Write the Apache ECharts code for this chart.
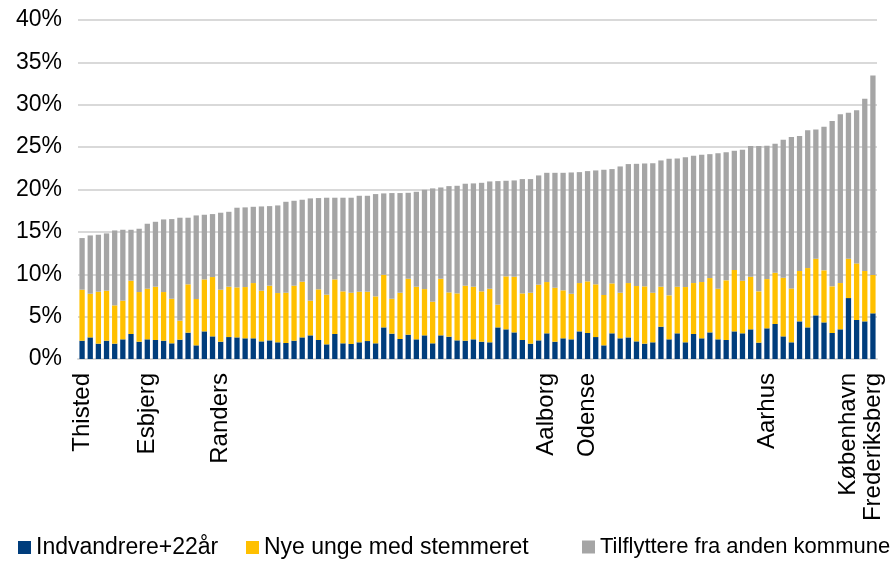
<!DOCTYPE html>
<html>
<head>
<meta charset="utf-8">
<script src="https://cdn.jsdelivr.net/npm/echarts@6/dist/echarts.min.js"></script>
<style>
html,body{margin:0;padding:0;background:#fff;}
#c{width:893px;height:562px;}
</style>
</head>
<body>
<div id="c"></div>
<script>
// 98 municipalities, sorted by total share; only some are labelled
const categories = [
 'Thisted','','','','','','','','Esbjerg','',
 '','','','','','','','Randers','','',
 '','','','','','','','','','',
 '','','','','','','','','','',
 '','','','','','','','','','',
 '','','','','','','','Aalborg','','',
 '','','Odense','','','','','','','',
 '','','','','','','','','','',
 '','','','','Aarhus','','','','','',
 '','','','','København','','','Frederiksberg'
];
const seriesNames = ['Indvandrere+22år','Nye unge med stemmeret','Tilflyttere fra anden kommune'];
const indvandrere = [
 2.16,2.55,1.81,2.16,1.81,2.32,2.95,2.04,2.32,2.24,
 2.16,1.85,2.28,3.11,1.61,3.26,2.67,2.04,2.59,2.55,
 2.44,2.44,2.08,2.20,1.97,1.89,2.16,2.55,2.79,2.24,
 1.73,2.95,1.85,1.77,1.97,2.12,1.85,3.73,2.99,2.36,
 2.87,2.32,2.79,1.85,2.79,2.63,2.20,2.16,2.32,2.04,
 1.97,3.73,3.50,3.14,2.24,1.81,2.20,3.03,2.04,2.44,
 2.32,3.26,3.07,2.59,1.61,3.03,2.44,2.55,2.08,1.81,
 1.97,3.81,2.32,3.03,1.97,2.95,2.44,3.14,2.32,2.24,
 3.26,3.03,3.50,1.93,3.62,4.13,2.67,1.97,4.44,3.73,
 5.15,4.32,3.07,3.50,7.19,4.60,4.44,5.39
];
const nyeUnge = [
 6.02,5.15,6.13,5.90,4.52,4.56,6.29,5.86,5.97,6.29,
 5.74,5.26,2.24,5.70,5.47,6.13,7.00,6.14,5.94,5.90,
 6.05,6.52,5.98,6.45,5.81,5.93,6.49,6.57,4.09,5.98,
 5.86,6.44,6.13,6.05,5.97,5.82,5.54,6.21,4.12,5.46,
 6.60,6.21,5.46,4.91,6.68,5.23,5.54,6.49,6.21,5.94,
 6.32,2.68,6.25,6.57,5.50,6.01,6.57,6.05,6.37,5.66,
 5.38,5.70,6.09,6.22,5.94,5.89,5.38,6.41,6.53,6.76,
 5.85,4.72,5.19,5.50,6.52,6.01,6.64,6.41,5.97,7.04,
 7.24,6.21,6.21,6.05,5.81,6.05,6.92,6.36,5.94,7.00,
 6.68,6.14,5.50,5.46,4.64,6.68,5.94,4.52
];
const tilflyttere = [
 6.09,6.88,6.72,6.76,8.84,8.37,6.01,7.47,7.67,7.66,
 8.57,9.40,12.15,7.86,9.86,7.63,7.43,9.08,8.84,9.40,
 9.40,9.00,9.94,9.39,10.34,10.73,10.02,9.67,12.07,10.77,
 11.44,9.64,11.05,11.21,11.32,11.32,12.07,9.60,12.47,11.76,
 10.14,11.20,11.72,13.37,10.77,12.54,12.70,12.03,12.19,12.81,
 12.66,14.58,11.28,11.36,13.49,13.41,12.89,12.89,13.56,13.87,
 14.31,13.09,13.01,13.44,14.78,13.49,14.90,14.04,14.42,14.50,
 15.29,14.90,16.11,15.13,15.33,15.02,15.02,14.62,16.00,15.13,
 14.07,15.45,15.41,17.14,15.73,15.21,16.27,17.85,15.92,16.27,
 15.25,16.94,19.50,19.93,17.22,18.08,20.32,23.54
];
const yTicks = [0,5,10,15,20,25,30,35,40];
const colors = ['#003D7C','#FFC000','#A5A5A5'];

const font = 'Liberation Sans, Arial, sans-serif';
const chart = echarts.init(document.getElementById('c'), null, {renderer:'canvas'});
const values = [indvandrere, nyeUnge, tilflyttere];
function legendFor(i, left, size) {
  return {
    data: [seriesNames[i]], left: left, top: 536,
    itemWidth: 13, itemHeight: 13, icon: 'rect', padding: 0,
    textStyle: {fontFamily: font, fontSize: size, color: '#000'}
  };
}
chart.setOption({
  animation: false,
  color: colors,
  grid: {left: 78, right: 16, top: 20, bottom: 203, containLabel: false},
  legend: [legendFor(0, 18, 23), legendFor(1, 246, 23), legendFor(2, 582, 22)],
  xAxis: {
    type: 'category', data: categories,
    axisTick: {show: false},
    axisLine: {lineStyle: {color: '#D9D9D9', width: 2}},
    axisLabel: {rotate: 90, interval: 0, fontFamily: font, fontSize: 24, color: '#000', margin: 14}
  },
  yAxis: {
    type: 'value', min: yTicks[0], max: yTicks[yTicks.length-1], interval: 5,
    axisLine: {show: false}, axisTick: {show: false},
    splitLine: {lineStyle: {color: '#D9D9D9', width: 2}},
    axisLabel: {formatter: v => v + '%', fontFamily: font, fontSize: 23, color: '#000', margin: 16}
  },
  series: values.map((d, i) => ({
    name: seriesNames[i], type: 'bar', stack: 'total', data: d,
    barWidth: '65%', itemStyle: {color: colors[i]}
  }))
});
</script>
</body>
</html>
